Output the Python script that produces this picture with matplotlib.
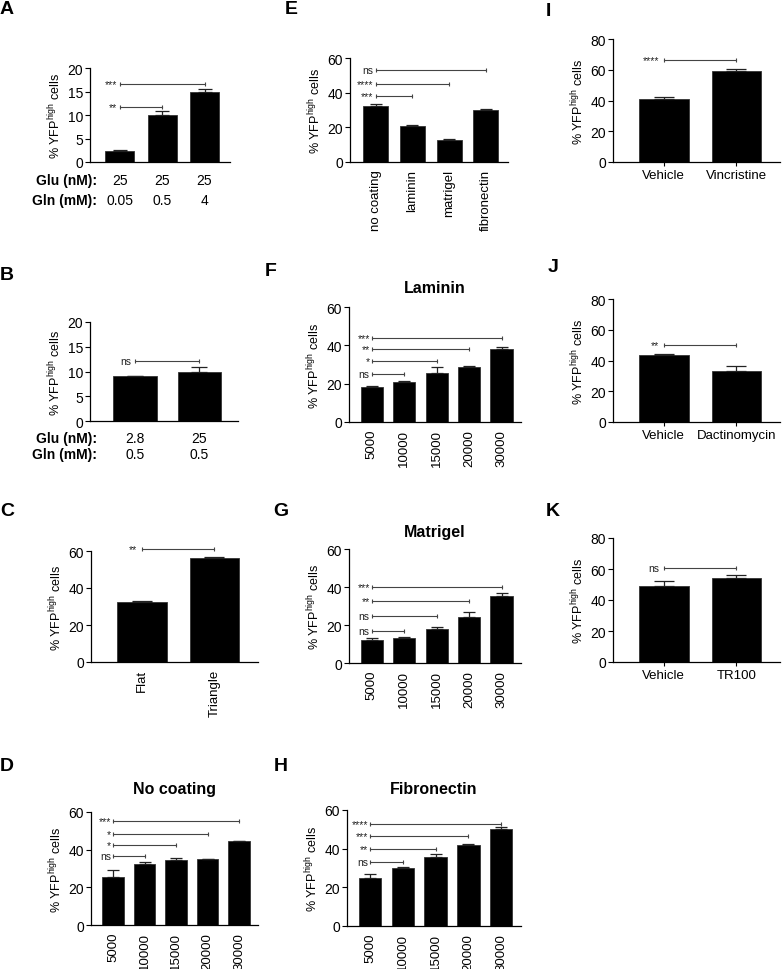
import numpy as np
import matplotlib.pyplot as plt
from matplotlib.transforms import offset_copy

plt.rcParams['font.family'] = ['Liberation Sans', 'DejaVu Sans']
plt.rcParams['mathtext.default'] = 'regular'

# ---- data ----
a_vals = [2.3, 9.9, 14.8]
a_err = [0.3, 1.0, 0.8]
a_glu = ['25', '25', '25']
a_gln = ['0.05', '0.5', '4']
a_sig = [('**', 1, 11.7), ('***', 2, 16.5)]

b_vals = [9.0, 9.9]
b_err = [0.1, 1.0]
b_glu = ['2.8', '25']
b_gln = ['0.5', '0.5']
b_sig = [('ns', 1, 12.2)]

c_cats = ['Flat', 'Triangle']
c_vals = [32.2, 56.2]
c_err = [1.0, 0.6]
c_sig = [('**', 1, 61.2)]

dens_cats = ['5000', '10000', '15000', '20000', '30000']

d_vals = [25.5, 32.3, 34.3, 35.0, 44.5]
d_err = [3.5, 1.2, 1.2, 0.3, 0.0]
d_sig = [('ns', 1, 36.5), ('*', 2, 42.5), ('*', 3, 48.5), ('***', 4, 55.2)]

e_cats = ['no coating', 'laminin', 'matrigel', 'fibronectin']
e_vals = [32.3, 21.0, 12.7, 30.0]
e_err = [1.3, 0.4, 0.7, 0.6]
e_sig = [('***', 1, 37.9), ('****', 2, 45.2), ('ns', 3, 52.9)]

f_vals = [18.5, 21.0, 25.5, 28.5, 38.0]
f_err = [0.3, 0.5, 3.0, 0.5, 1.3]
f_sig = [('ns', 1, 24.9), ('*', 2, 31.8), ('**', 3, 38.3), ('***', 4, 43.7)]

g_vals = [12.0, 13.0, 18.0, 24.0, 35.5]
g_err = [1.0, 0.5, 0.7, 2.7, 1.2]
g_sig = [('ns', 1, 17.0), ('ns', 2, 24.7), ('**', 3, 32.5), ('***', 4, 40.2)]

h_vals = [25.0, 30.0, 35.5, 42.0, 50.0]
h_err = [1.8, 0.5, 1.5, 0.5, 1.3]
h_sig = [('ns', 1, 33.2), ('**', 2, 39.8), ('***', 3, 46.7), ('****', 4, 52.7)]

i_cats = ['Vehicle', 'Vincristine']
i_vals = [41.0, 59.5]
i_err = [1.0, 0.8]
i_sig = [('****', 1, 66.2)]

j_cats = ['Vehicle', 'Dactinomycin']
j_vals = [43.3, 33.0]
j_err = [1.0, 3.5]
j_sig = [('**', 1, 50.2)]

k_cats = ['Vehicle', 'TR100']
k_vals = [49.0, 54.0]
k_err = [3.0, 2.0]
k_sig = [('ns', 1, 60.6)]

W, H = 782, 970
fig = plt.figure(figsize=(W / 100, H / 100), dpi=100)
ylab = '% YFP$^{high}$ cells'


def panel(box, vals, err, ymax, yticks, cats=None, rot=90, sig=(), cap=4,
          title=None, tpad=10):
    # box = (left, top, right, bottom) in pixels
    x0, yt, x1, yb = box
    ax = fig.add_axes([x0 / W, 1 - yb / H, (x1 - x0) / W, (yb - yt) / H])
    x = np.arange(len(vals))
    ax.bar(x, vals, width=0.68, color='black', edgecolor='#333333', linewidth=0.6)
    ax.errorbar(x, vals, yerr=[np.zeros(len(err)), err], fmt='none',
                ecolor='#222222', elinewidth=0.9, capsize=cap, capthick=0.9)
    ax.set_xlim(-0.7, len(vals) - 0.4)
    ax.set_ylim(0, ymax)
    ax.set_yticks(yticks)
    ax.spines[['top', 'right']].set_visible(False)
    ax.spines[['left', 'bottom']].set_linewidth(0.9)
    ax.tick_params(axis='y', labelsize=10, length=3.5, width=0.8, pad=1.5)
    ax.set_ylabel(ylab, fontsize=9, labelpad=3)
    if cats is not None:
        ax.set_xticks(x)
        if rot:
            ax.set_xticklabels(cats, rotation=90, fontsize=9.5)
            ax.tick_params(axis='x', length=0, pad=5)
        else:
            ax.set_xticklabels(cats, fontsize=9.5)
            ax.tick_params(axis='x', length=3, width=0.8, pad=2)
    else:
        ax.set_xticks([])
    # significance brackets
    for lab, k, y in sig:
        ax.plot([0, k], [y, y], color='#444444', lw=0.8, marker='|', ms=3,
                mew=0.8, clip_on=False)
        ax.text(-0.06, y, lab, ha='right', va='center', fontsize=7.5,
                color='#222222', clip_on=False)
    if title:
        ax.set_title(title, fontsize=11.5, fontweight='bold', pad=tpad)
    return ax


def rows(ax, glu, gln, dy1, dy2):
    # condition rows under panels A and B
    tr = ax.get_xaxis_transform()
    ybot = (1 - ax.get_position().y0) * H
    for lab, vals, dy in (('Glu (nM):', glu, dy1), ('Gln (mM):', gln, dy2)):
        t = offset_copy(tr, fig=fig, x=0, y=-dy * 0.72, units='points')
        for i, v in enumerate(vals):
            ax.text(i, 0, v, transform=t, ha='center', va='center', fontsize=10)
        fig.text(97 / W, 1 - (ybot + dy) / H, lab, ha='right', va='center',
                 fontsize=10, fontweight='bold')


axA = panel((90, 69, 230, 163), a_vals, a_err, 20, [0, 5, 10, 15, 20], sig=a_sig, cap=5)
rows(axA, a_glu, a_gln, 18, 38)
axB = panel((90, 323, 238, 422), b_vals, b_err, 20, [0, 5, 10, 15, 20], sig=b_sig, cap=6)
rows(axB, b_glu, b_gln, 17, 33)
panel((91, 552, 258, 663), c_vals, c_err, 60, [0, 20, 40, 60], cats=c_cats, sig=c_sig, cap=7)
panel((91, 813, 258, 926), d_vals, d_err, 60, [0, 20, 40, 60], cats=dens_cats, sig=d_sig,
      cap=4, title='No coating', tpad=14)
panel((350, 59, 508, 163), e_vals, e_err, 60, [0, 20, 40, 60], cats=e_cats, sig=e_sig, cap=4)
panel((349, 308, 521, 423), f_vals, f_err, 60, [0, 20, 40, 60], cats=dens_cats, sig=f_sig,
      cap=4, title='Laminin', tpad=11)
panel((349, 550, 521, 664), g_vals, g_err, 60, [0, 20, 40, 60], cats=dens_cats, sig=g_sig,
      cap=4, title='Matrigel', tpad=9)
panel((347, 811, 521, 927), h_vals, h_err, 60, [0, 20, 40, 60], cats=dens_cats, sig=h_sig,
      cap=4, title='Fibronectin', tpad=12)
panel((613, 40, 780, 163), i_vals, i_err, 80, [0, 20, 40, 60, 80], cats=i_cats, rot=0,
      sig=i_sig, cap=7)
panel((613, 300, 780, 423), j_vals, j_err, 80, [0, 20, 40, 60, 80], cats=j_cats, rot=0,
      sig=j_sig, cap=7)
panel((613, 539, 780, 663), k_vals, k_err, 80, [0, 20, 40, 60, 80], cats=k_cats, rot=0,
      sig=k_sig, cap=7)

letters = [('A', 7, 10), ('B', 7, 276), ('C', 7, 512), ('D', 7, 767),
           ('E', 291, 10), ('F', 271, 271), ('G', 281, 511), ('H', 281, 767),
           ('I', 548, 12), ('J', 553, 268), ('K', 553, 511)]
for lab, px, py in letters:
    fig.text(px / W, 1 - py / H, lab, ha='center', va='center', fontsize=14,
             fontweight='bold')

fig.savefig('out.png', dpi=100)
